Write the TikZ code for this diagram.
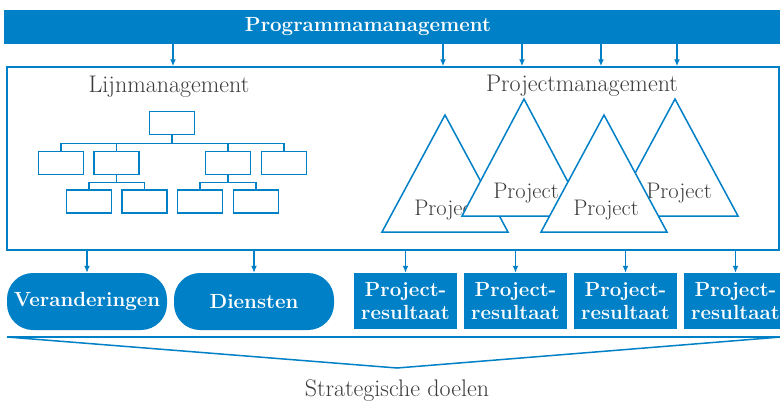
\documentclass[tikz,border=0pt]{standalone}
\usepackage{tikz}
\usetikzlibrary{arrows.meta}
\usetikzlibrary{calc}
\usepackage{xcolor}
\definecolor{pmblue}{RGB}{0,128,198}
\definecolor{pmgrey}{RGB}{60,60,60}
\tikzset{
	band/.style={fill=pmblue, inner sep=0pt, minimum width=776pt, minimum height=34pt},
	heading/.style={text=white, inner sep=0pt, font=\fontsize{20.5}{24}\selectfont\bfseries},
	plain/.style={text=pmgrey, inner sep=0pt, font=\fontsize{24}{28}\selectfont},
	projtext/.style={text=pmgrey, inner sep=0pt, font=\fontsize{22.5}{26}\selectfont},
	outerbox/.style={draw=pmblue, line width=1.5pt, inner sep=0pt, minimum width=772pt, minimum height=183pt},
	orgbox/.style={draw=pmblue, line width=1.8pt, inner sep=0pt, minimum width=45pt, minimum height=23pt},
	link/.style={draw=pmblue, line width=1.8pt},
	tri/.style={draw=pmblue, line width=1.5pt, fill=white, line join=miter},
	arr/.style={draw=pmblue, line width=1.5pt, -{Latex[length=7pt,width=6pt]}},
	pill/.style={fill=pmblue, rounded corners=26pt, inner sep=0pt, minimum width=160pt, minimum height=57pt,
		text=white, font=\fontsize{20.5}{23}\selectfont\bfseries},
	result/.style={fill=pmblue, inner sep=0pt, minimum width=103pt, minimum height=56pt, align=center,
		text=white, font=\fontsize{20.5}{23}\selectfont\bfseries}
}
\begin{document}
\begin{tikzpicture}[x=1pt, y=1pt, yscale=-1]
\useasboundingbox (0,0) rectangle (780,402);
% programma
\node[band] (prog) at (392,27) {};
\node[heading] (progtext) at (368,27) {Programmamanagement};
\node[outerbox] (main) at (393,158.5) {};
\foreach \x in {173,443,522,601,677}
	\draw[arr] (\x,0 |- prog.south) -- (\x,0 |- main.north);
% lijnmanagement
\node[plain, anchor=base] (lijn) at (169,92) {Lijnmanagement};
\node[orgbox] (o0) at (172,123) {};
\node[orgbox] (o1) at (61,163) {};
\node[orgbox] (o2) at (116.5,163) {};
\node[orgbox] (o3) at (228,163) {};
\node[orgbox] (o4) at (284,163) {};
\node[orgbox] (o5) at (89,201.5) {};
\node[orgbox] (o6) at (144.5,201.5) {};
\node[orgbox] (o7) at (200,201.5) {};
\node[orgbox] (o8) at (256,201.5) {};
\foreach \c in {o1,o2,o3,o4}
	\draw[link] (o0.south) -- ++(0,8) -| (\c.north);
\foreach \c in {o5,o6}
	\draw[link] (o2.south) -- ++(0,7) -| (\c.north);
\foreach \c in {o7,o8}
	\draw[link] (o3.south) -- ++(0,7) -| (\c.north);
% projectmanagement
\node[plain, anchor=base] (projm) at (582,91) {Projectmanagement};
\draw[tri] (445,115) -- (382,232) -- (508,232) -- cycle;
\node[projtext, anchor=base] (p1) at (447,215) {Project};
\draw[tri] (524,99) -- (462,216) -- (586,216) -- cycle;
\node[projtext, anchor=base] (p2) at (526,198) {Project};
\draw[tri] (675,99) -- (612,216) -- (738,216) -- cycle;
\node[projtext, anchor=base] (p4) at (679,198) {Project};
\draw[tri] (604,115) -- (541,232) -- (667,232) -- cycle;
\node[projtext, anchor=base] (p3) at (606,215) {Project};
% resultaten
\node[pill] (ver) at (87,301.5) {Veranderingen};
\node[pill] (dien) at (254,301.5) {Diensten};
\node[result] (r1) at (405.5,301) {Project-\\resultaat};
\node[result] (r2) at (515.5,301) {Project-\\resultaat};
\node[result] (r3) at (625.5,301) {Project-\\resultaat};
\node[result] (r4) at (735.5,301) {Project-\\resultaat};
\foreach \n in {ver,dien,r1,r2,r3,r4}
	\draw[arr] (\n.north |- main.south) -- (\n.north);
% doelen
\coordinate (bl) at (7,337);
\coordinate (br) at (781,337);
\coordinate (apex) at (397,368);
\draw[link, line width=1.5pt] (bl) -- (br);
\draw[link, line width=1.5pt, line join=miter] (bl) -- (apex) -- (br);
\node[plain, anchor=base] (doel) at (397,396) {Strategische doelen};
\end{tikzpicture}
\end{document}
